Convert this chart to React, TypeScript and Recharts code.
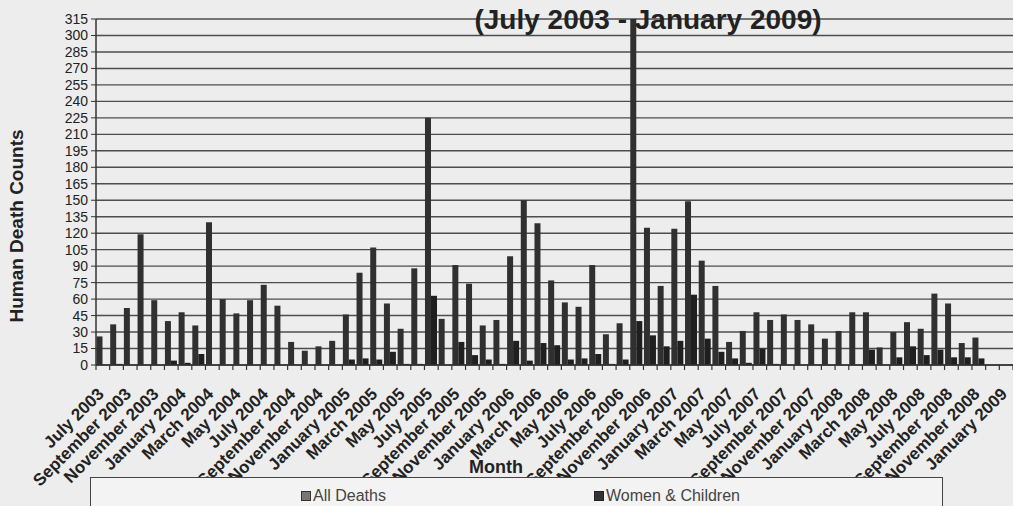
import { BarChart, Bar, XAxis, YAxis, CartesianGrid } from 'recharts';

const MONTHS = [
  'July 2003', 'August 2003', 'September 2003', 'October 2003', 'November 2003', 'December 2003',
  'January 2004', 'February 2004', 'March 2004', 'April 2004', 'May 2004', 'June 2004',
  'July 2004', 'August 2004', 'September 2004', 'October 2004', 'November 2004', 'December 2004',
  'January 2005', 'February 2005', 'March 2005', 'April 2005', 'May 2005', 'June 2005',
  'July 2005', 'August 2005', 'September 2005', 'October 2005', 'November 2005', 'December 2005',
  'January 2006', 'February 2006', 'March 2006', 'April 2006', 'May 2006', 'June 2006',
  'July 2006', 'August 2006', 'September 2006', 'October 2006', 'November 2006', 'December 2006',
  'January 2007', 'February 2007', 'March 2007', 'April 2007', 'May 2007', 'June 2007',
  'July 2007', 'August 2007', 'September 2007', 'October 2007', 'November 2007', 'December 2007',
  'January 2008', 'February 2008', 'March 2008', 'April 2008', 'May 2008', 'June 2008',
  'July 2008', 'August 2008', 'September 2008', 'October 2008', 'November 2008', 'December 2008',
  'January 2009',
];

const ALL_DEATHS = [
  26, 37, 52, 119, 59, 40,
  48, 36, 130, 60, 47, 59,
  73, 54, 21, 13, 17, 22,
  46, 84, 107, 56, 33, 88,
  225, 42, 91, 74, 36, 41,
  99, 150, 129, 77, 57, 53,
  91, 28, 38, 330, 125, 72,
  124, 149, 95, 72, 21, 31,
  48, 41, 46, 41, 37, 24,
  31, 48, 48, 16, 30, 39,
  33, 65, 56, 20, 25, 0,
  0,
];

const WOMEN_CHILDREN = [
  0, 1, 0, 0, 0, 4,
  2, 10, 0, 0, 0, 0,
  0, 0, 0, 0, 0, 0,
  5, 6, 5, 12, 1, 1,
  63, 0, 21, 9, 5, 1,
  22, 4, 20, 18, 5, 6,
  10, 1, 5, 40, 27, 17,
  22, 64, 24, 12, 6, 2,
  15, 1, 0, 0, 0, 0,
  0, 0, 14, 0, 7, 17,
  9, 14, 7, 7, 6, 0,
  0,
];

const Y_TICKS = [0, 15, 30, 45, 60, 75, 90, 105, 120, 135, 150, 165, 180, 195, 210, 225, 240, 255, 270, 285, 300, 315];

const data = MONTHS.map((month, i) => ({
  month,
  allDeaths: ALL_DEATHS[i],
  womenChildren: WOMEN_CHILDREN[i],
}));

const W = 1013;
const H = 506;
const TOP = 19;
const Y_AXIS_W = 96;
const X_AXIS_H = 141;
const PLOT_BOTTOM = H - X_AXIS_H;
const BAND = (W - Y_AXIS_W) / MONTHS.length;
const FONT = '"Liberation Sans", Arial, sans-serif';

function MonthTick(props: any) {
  const { x, payload, index } = props;
  const left = x - BAND / 2;
  const lx = x + 2;
  const ly = PLOT_BOTTOM + 30;
  return (
    <g>
      <line x1={left} x2={left} y1={PLOT_BOTTOM} y2={PLOT_BOTTOM + 5} stroke="#333" strokeWidth={1.2} />
      {index === MONTHS.length - 1 && (
        <line x1={x + BAND / 2} x2={x + BAND / 2} y1={PLOT_BOTTOM} y2={PLOT_BOTTOM + 5} stroke="#333" strokeWidth={1.2} />
      )}
      {index % 2 === 0 && (
        <text
          x={lx}
          y={ly}
          transform={`rotate(-45, ${lx}, ${ly})`}
          textAnchor="end"
          fontFamily={FONT}
          fontWeight="bold"
          fontSize={17}
          fill="#222"
        >
          {payload.value}
        </text>
      )}
    </g>
  );
}

export default function App() {
  return (
    <div style={{ position: 'relative', width: W, height: H, overflow: 'hidden', background: '#ededed', fontFamily: FONT }}>
      <style>{'body{margin:0;overflow:hidden}'}</style>
      <BarChart
        width={W}
        height={H}
        data={data}
        margin={{ top: TOP, right: 0, left: 0, bottom: 0 }}
        barCategoryGap={0.5}
        barGap={0}
      >
        <CartesianGrid vertical={false} stroke="#4d4d4d" strokeWidth={1.4} />
        <XAxis
          dataKey="month"
          height={X_AXIS_H}
          interval={0}
          tickLine={false}
          axisLine={{ stroke: '#333', strokeWidth: 1.5 }}
          tick={<MonthTick />}
        />
        <YAxis
          width={Y_AXIS_W}
          domain={[0, 315]}
          ticks={Y_TICKS}
          allowDataOverflow
          interval={0}
          tickSize={5}
          tickMargin={3}
          axisLine={{ stroke: '#333', strokeWidth: 1.5 }}
          tickLine={{ stroke: '#333' }}
          tick={{ fill: '#222', fontSize: 14, fontFamily: FONT }}
        />
        <Bar dataKey="allDeaths" name="All Deaths" fill="#303030" isAnimationActive={false} />
        <Bar dataKey="womenChildren" name="Women & Children" fill="#1f1f1f" isAnimationActive={false} />
      </BarChart>

      <div
        style={{
          position: 'absolute', left: 648, top: 6, transform: 'translateX(-50%)',
          fontSize: 28, fontWeight: 'bold', color: '#222', whiteSpace: 'nowrap', lineHeight: 1,
        }}
      >
        (July 2003 - January 2009)
      </div>

      <div
        style={{
          position: 'absolute', left: 17 - 130, top: 226 - 12, width: 260, height: 24, lineHeight: '24px',
          textAlign: 'center', transform: 'rotate(-90deg)', fontSize: 19, fontWeight: 'bold', color: '#222',
        }}
      >
        Human Death Counts
      </div>

      <div
        style={{
          position: 'absolute', left: 90, top: 477, width: 853, height: 40, boxSizing: 'border-box',
          border: '1.5px solid #444', background: '#f3f3f3',
        }}
      >
        <div style={{ position: 'absolute', left: 210, top: 9, display: 'flex', alignItems: 'center', fontSize: 16, color: '#444' }}>
          <span style={{ width: 8, height: 8, background: '#777', border: '1px solid #333', marginRight: 2 }} />
          All Deaths
        </div>
        <div style={{ position: 'absolute', left: 503, top: 9, display: 'flex', alignItems: 'center', fontSize: 16, color: '#444' }}>
          <span style={{ width: 8, height: 8, background: '#333', border: '1px solid #222', marginRight: 2 }} />
          Women &amp; Children
        </div>
      </div>

      <div
        style={{
          position: 'absolute', left: 496, top: 467, transform: 'translate(-50%, -50%)',
          fontSize: 18, fontWeight: 'bold', color: '#222', whiteSpace: 'nowrap', lineHeight: 1,
        }}
      >
        Month
      </div>
    </div>
  );
}
